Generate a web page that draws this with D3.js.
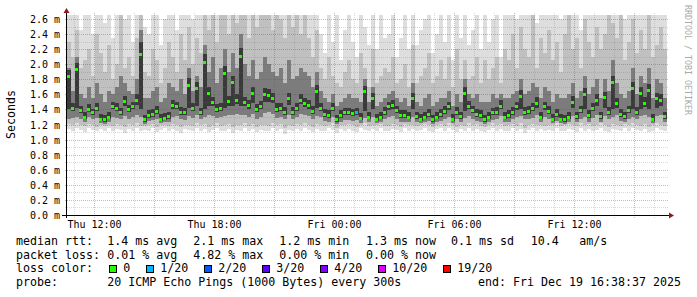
<!DOCTYPE html>
<html>
<head>
<meta charset="utf-8">
<script src="https://cdn.jsdelivr.net/npm/d3@7"></script>
<style>
  body { margin: 0; background: #fff; }
  text { font-family: "DejaVu Sans Mono", monospace; }
</style>
</head>
<body>
<div id="chart"></div>
<script>
// ---- data (ms), one value per 12 minute step, 150 steps ----
const median = [
  1.84,1.42,1.94,1.39,1.30,1.41,1.36,1.42,1.28,1.27,
  1.30,1.44,1.42,1.36,1.51,1.40,1.44,1.53,2.13,1.27,
  1.33,1.34,1.38,1.28,1.29,1.31,1.46,1.44,1.37,1.36,
  1.73,1.42,1.68,1.36,2.03,1.62,1.50,1.41,1.42,1.89,
  1.51,1.76,1.53,2.11,1.50,1.46,1.62,1.40,1.44,1.61,
  1.59,1.55,1.41,1.42,1.37,1.55,1.37,1.42,1.53,1.48,
  1.46,1.38,1.64,1.42,1.34,1.33,1.42,1.27,1.33,1.36,
  1.36,1.35,1.36,1.29,1.64,1.30,1.55,1.28,1.30,1.37,
  1.44,1.46,1.39,1.33,1.33,1.30,1.55,1.31,1.28,1.30,
  1.34,1.27,1.30,1.34,1.38,1.44,1.28,1.37,1.31,1.62,
  1.45,1.39,1.34,1.33,1.27,1.30,1.36,1.37,1.45,1.30,
  1.33,1.37,1.44,1.58,1.37,1.38,1.42,1.49,1.30,1.44,
  1.38,1.28,1.34,1.28,1.27,1.30,1.50,1.31,1.39,1.60,
  1.33,1.42,1.53,1.31,1.56,1.37,1.76,1.48,1.34,1.31,
  1.39,1.68,1.37,1.62,1.49,1.66,1.28,1.55,1.53,1.31
];
const pingMin = [
  1.14,1.12,1.16,1.13,1.10,1.15,1.13,1.11,1.14,1.12,
  1.15,1.11,1.14,1.13,1.09,1.14,1.12,1.15,1.11,1.13,
  1.12,1.15,1.10,1.13,1.15,1.11,1.14,1.12,1.09,1.14,
  1.13,1.11,1.15,1.12,1.14,1.10,1.13,1.15,1.11,1.12,
  1.14,1.09,1.13,1.12,1.15,1.11,1.14,1.10,1.13,1.12,
  1.11,1.15,1.12,1.14,1.08,1.13,1.11,1.14,1.12,1.15,
  1.13,1.10,1.14,1.12,1.11,1.15,1.13,1.09,1.14,1.12,
  1.14,1.12,1.10,1.15,1.13,1.11,1.14,1.12,1.15,1.11,
  1.12,1.14,1.13,1.10,1.15,1.12,1.14,1.11,1.13,1.15,
  1.12,1.10,1.14,1.15,1.11,1.16,1.13,1.10,1.14,1.12,
  1.15,1.12,1.14,1.11,1.10,1.13,1.15,1.12,1.14,1.11,
  1.12,1.15,1.11,1.14,1.09,1.13,1.15,1.12,1.14,1.11,
  1.13,1.12,1.15,1.11,1.12,1.14,1.13,1.10,1.15,1.12,
  1.14,1.11,1.13,1.15,1.12,1.10,1.14,1.13,1.11,1.15,
  1.12,1.15,1.13,1.11,1.14,1.10,1.12,1.15,1.13,1.11
];
const pingP10 = [
  1.21,1.19,1.22,1.20,1.18,1.21,1.20,1.17,1.19,1.18,
  1.20,1.18,1.21,1.19,1.17,1.21,1.19,1.22,1.18,1.18,
  1.19,1.21,1.17,1.19,1.20,1.18,1.21,1.19,1.17,1.20,
  1.20,1.18,1.22,1.19,1.21,1.17,1.20,1.22,1.18,1.19,
  1.21,1.17,1.20,1.19,1.22,1.18,1.21,1.17,1.20,1.19,
  1.18,1.22,1.19,1.21,1.16,1.20,1.18,1.21,1.19,1.22,
  1.20,1.17,1.21,1.19,1.18,1.20,1.22,1.16,1.20,1.19,
  1.21,1.19,1.17,1.20,1.22,1.18,1.20,1.19,1.21,1.18,
  1.18,1.21,1.20,1.17,1.21,1.19,1.20,1.18,1.19,1.21,
  1.19,1.17,1.20,1.21,1.18,1.22,1.19,1.17,1.20,1.18,
  1.22,1.19,1.21,1.18,1.17,1.20,1.22,1.19,1.21,1.18,
  1.19,1.21,1.18,1.22,1.16,1.20,1.21,1.19,1.20,1.18,
  1.20,1.19,1.22,1.18,1.19,1.21,1.20,1.18,1.22,1.19,
  1.21,1.18,1.20,1.22,1.19,1.17,1.21,1.20,1.18,1.21,
  1.19,1.22,1.20,1.18,1.21,1.17,1.19,1.22,1.20,1.18
];
const pingP25 = [
  1.27,1.29,1.30,1.28,1.24,1.30,1.27,1.29,1.22,1.21,
  1.23,1.30,1.29,1.27,1.31,1.28,1.30,1.32,1.30,1.21,
  1.25,1.26,1.28,1.22,1.23,1.24,1.30,1.31,1.27,1.26,
  1.31,1.29,1.32,1.27,1.30,1.32,1.31,1.29,1.30,1.31,
  1.33,1.32,1.34,1.33,1.32,1.30,1.34,1.28,1.30,1.35,
  1.36,1.34,1.29,1.30,1.27,1.33,1.27,1.30,1.34,1.32,
  1.31,1.28,1.31,1.30,1.25,1.24,1.30,1.21,1.24,1.26,
  1.26,1.25,1.26,1.22,1.29,1.23,1.30,1.22,1.23,1.27,
  1.30,1.31,1.28,1.24,1.24,1.23,1.30,1.24,1.22,1.23,
  1.25,1.21,1.23,1.25,1.28,1.30,1.22,1.27,1.24,1.29,
  1.31,1.28,1.25,1.24,1.21,1.23,1.26,1.27,1.31,1.23,
  1.24,1.27,1.30,1.31,1.27,1.28,1.29,1.32,1.23,1.30,
  1.28,1.22,1.25,1.22,1.21,1.23,1.31,1.24,1.28,1.30,
  1.24,1.29,1.32,1.24,1.31,1.27,1.30,1.32,1.25,1.24,
  1.28,1.30,1.27,1.31,1.32,1.30,1.22,1.31,1.33,1.24
];
const pingP40 = [
  1.40,1.38,1.42,1.35,1.27,1.37,1.32,1.38,1.25,1.24,
  1.27,1.40,1.38,1.32,1.45,1.36,1.40,1.46,1.40,1.24,
  1.29,1.30,1.34,1.25,1.26,1.28,1.41,1.40,1.33,1.32,
  1.42,1.38,1.45,1.32,1.40,1.45,1.45,1.37,1.38,1.42,
  1.45,1.44,1.47,1.45,1.45,1.41,1.48,1.36,1.40,1.50,
  1.50,1.48,1.37,1.38,1.33,1.46,1.33,1.38,1.47,1.43,
  1.41,1.34,1.42,1.38,1.30,1.29,1.38,1.24,1.29,1.32,
  1.32,1.31,1.32,1.26,1.38,1.27,1.40,1.25,1.27,1.33,
  1.39,1.40,1.35,1.29,1.29,1.27,1.40,1.28,1.25,1.27,
  1.30,1.24,1.27,1.30,1.34,1.39,1.25,1.33,1.28,1.38,
  1.40,1.35,1.30,1.29,1.24,1.27,1.32,1.33,1.40,1.27,
  1.29,1.33,1.39,1.40,1.33,1.34,1.38,1.42,1.27,1.39,
  1.34,1.25,1.30,1.25,1.24,1.27,1.42,1.28,1.35,1.40,
  1.29,1.38,1.44,1.28,1.42,1.33,1.40,1.42,1.30,1.28,
  1.35,1.40,1.33,1.41,1.43,1.40,1.25,1.42,1.45,1.28
];
const pingP60 = [
  1.92,1.48,2.02,1.44,1.36,1.47,1.41,1.49,1.34,1.33,
  1.36,1.50,1.48,1.42,1.58,1.46,1.50,1.60,2.30,1.33,
  1.39,1.40,1.45,1.34,1.35,1.37,1.53,1.50,1.43,1.42,
  1.82,1.49,1.76,1.42,2.14,1.70,1.57,1.47,1.49,1.98,
  1.58,1.85,1.60,2.22,1.57,1.53,1.70,1.47,1.51,1.69,
  1.67,1.62,1.48,1.49,1.43,1.62,1.43,1.49,1.60,1.55,
  1.53,1.44,1.72,1.48,1.40,1.39,1.48,1.33,1.39,1.42,
  1.42,1.41,1.42,1.35,1.71,1.36,1.62,1.34,1.36,1.43,
  1.50,1.52,1.45,1.39,1.39,1.36,1.62,1.37,1.34,1.36,
  1.40,1.33,1.36,1.40,1.44,1.50,1.34,1.43,1.37,1.70,
  1.51,1.45,1.40,1.39,1.33,1.36,1.42,1.43,1.52,1.36,
  1.39,1.43,1.50,1.66,1.43,1.44,1.48,1.56,1.36,1.50,
  1.44,1.34,1.40,1.34,1.33,1.36,1.58,1.37,1.45,1.68,
  1.39,1.48,1.60,1.37,1.63,1.43,1.85,1.55,1.40,1.37,
  1.45,1.76,1.43,1.70,1.56,1.74,1.34,1.62,1.60,1.37
];
const pingP75 = [
  1.95,1.65,2.10,1.60,1.55,1.70,1.55,1.75,1.60,1.50,
  1.65,1.60,1.70,1.85,1.75,1.65,1.60,1.80,2.45,1.55,
  1.55,1.65,1.70,1.50,1.55,1.75,1.70,1.65,1.80,1.60,
  1.95,1.65,1.85,1.70,2.25,1.90,2.10,1.75,1.95,2.20,
  1.90,2.15,1.95,2.40,2.00,1.85,2.05,1.80,1.90,2.10,
  2.00,1.90,1.85,1.95,1.75,2.05,1.80,1.85,1.95,1.90,
  1.85,1.70,1.90,1.65,1.55,1.50,1.60,1.45,1.50,1.55,
  1.60,1.55,1.55,1.50,1.80,1.50,1.70,1.45,1.50,1.55,
  1.60,1.65,1.55,1.50,1.55,1.45,1.75,1.50,1.45,1.55,
  1.60,1.45,1.50,1.55,1.55,1.65,1.45,1.60,1.50,1.80,
  1.60,1.55,1.60,1.50,1.50,1.50,1.60,1.55,1.60,1.55,
  1.55,1.60,1.65,1.80,1.60,1.65,1.75,1.70,1.55,1.70,
  1.65,1.50,1.60,1.55,1.55,1.60,1.75,1.55,1.65,1.85,
  1.60,1.70,1.80,1.55,1.80,1.65,2.05,1.75,1.60,1.55,
  1.65,1.95,1.60,1.85,1.75,1.95,1.55,1.80,1.75,1.55
];
const pingP90 = [
  2.30,2.10,2.45,1.95,2.05,2.20,1.85,2.40,2.15,1.90,
  2.25,1.80,2.00,2.70,1.95,2.10,1.85,2.35,2.75,1.90,
  1.85,2.20,2.05,1.75,1.95,2.30,2.10,1.90,2.40,2.05,
  2.50,2.00,2.35,2.15,2.70,2.45,2.75,2.30,2.70,2.80,
  2.40,2.75,2.55,2.80,2.70,2.35,2.75,2.50,2.70,2.75,
  2.80,2.45,2.70,2.60,2.35,2.75,2.50,2.70,2.40,2.75,
  2.35,2.10,2.45,1.95,1.80,2.10,1.85,1.75,1.70,1.90,
  2.05,1.80,1.75,2.15,1.95,1.70,2.20,1.75,1.85,1.95,
  1.90,2.10,1.75,1.80,2.00,1.70,2.25,1.75,1.85,1.95,
  2.15,1.75,1.85,2.05,1.80,2.10,1.70,2.20,1.80,2.05,
  1.80,1.85,2.10,1.75,2.05,1.80,1.95,2.10,1.75,2.20,
  2.05,2.40,1.95,2.50,2.20,2.10,2.70,1.95,2.35,2.15,
  2.45,2.05,2.30,1.90,2.40,2.75,2.20,2.35,1.95,2.60,
  2.30,2.10,2.50,2.20,2.40,2.70,2.55,2.35,2.65,2.05,
  2.30,2.60,2.15,2.45,2.20,2.70,2.10,2.25,2.50,2.20
];
const pingMax = [
  2.90,2.75,2.80,2.45,2.70,2.85,2.40,2.75,2.90,2.55,
  2.80,2.35,2.70,2.95,2.60,2.75,2.30,2.85,2.90,2.50,
  2.40,2.80,2.70,2.25,2.60,2.85,2.75,2.45,2.90,2.70,
  2.80,2.60,2.75,2.90,2.85,2.70,2.95,2.80,2.75,2.90,
  2.85,2.70,2.90,2.95,2.80,2.75,2.90,2.85,2.70,2.80,
  2.90,2.75,2.85,2.80,2.70,2.90,2.85,2.75,2.80,2.90,
  2.70,2.85,2.80,2.40,2.15,2.75,2.30,2.70,2.05,2.45,
  2.80,2.30,2.10,2.90,2.50,2.25,2.85,2.20,2.65,2.35,
  2.40,2.75,2.10,2.35,2.70,2.20,2.85,2.25,2.45,2.60,
  2.90,2.15,2.40,2.80,2.30,2.75,2.05,2.85,2.35,2.70,
  2.25,2.45,2.90,2.20,2.75,2.30,2.60,2.70,2.10,2.90,
  2.75,2.85,2.60,2.90,2.80,2.70,2.95,2.55,2.85,2.75,
  2.90,2.70,2.80,2.60,2.85,2.95,2.75,2.80,2.45,2.90,
  2.85,2.70,2.90,2.75,2.80,2.95,2.70,2.85,2.90,2.60,
  2.80,2.90,2.75,2.85,2.70,2.95,2.80,2.65,2.90,2.75
];
// lost pings per step (out of 20), only non-zero steps listed
const lossEvents = [[72, 1]];

const lossLevels = [0, 1, 2, 3, 4, 10, 19];
const lossLabels = ["0", "1/20", "2/20", "3/20", "4/20", "10/20", "19/20"];
const lossColors = ["#26ff00", "#00b8ff", "#0059ff", "#5e00ff", "#7e00ff", "#dd00ff", "#ff0000"];

const rttStats = ["1.4 ms avg", "2.1 ms max", "1.2 ms min", "1.3 ms now", "0.1 ms sd", "10.4", "am/s"];
const lossStats = ["0.01 % avg", "4.82 % max", "0.00 % min", "0.00 % now"];
const probeText = "20 ICMP Echo Pings (1000 Bytes) every 300s";
const endText = "end: Fri Dec 19 16:38:37 2025";

const startTime = new Date(2025, 11, 18, 10, 38, 37);
const endTime = new Date(2025, 11, 19, 16, 38, 37);
const stepMinutes = 12;
const yMax = 2.653;

// ---- layout ----
const W = 697, H = 297;
const L = 67, R = 667, T = 15, B = 215;

const times = median.map((_, i) => d3.timeMinute.offset(startTime, i * stepMinutes));
const loss = median.map(() => 0);
lossEvents.forEach(([i, n]) => loss[i] = n);

const x = d3.scaleTime().domain([startTime, endTime]).range([L, R]);
const y = d3.scaleLinear().domain([0, yMax]).range([B, T]);
const lossColor = d3.scaleThreshold().domain(lossLevels.slice(1)).range(lossColors);
const stepW = x(times[1]) - x(times[0]);

const svg = d3.select("#chart").append("svg")
  .attr("width", W).attr("height", H)
  .style("display", "block");

svg.append("rect").attr("width", W).attr("height", H).attr("fill", "#fff");

svg.append("clipPath").attr("id", "plotclip")
  .append("rect").attr("x", L).attr("y", T).attr("width", R - L).attr("height", B - T);

// smoke: sorted ping bands, light outside, dark inside
const bands = [
  { lo: pingMin, hi: pingMax, fill: "#dedede" },
  { lo: pingP10, hi: pingP90, fill: "#c0c0c0" },
  { lo: pingP25, hi: pingP75, fill: "#7c7c7c" },
  { lo: pingP40, hi: pingP60, fill: "#3a3a3a" }
];
const smoke = svg.append("g").attr("clip-path", "url(#plotclip)").attr("shape-rendering", "crispEdges");
bands.forEach(band => {
  smoke.append("g").selectAll("rect")
    .data(times)
    .join("rect")
    .attr("x", d => x(d))
    .attr("width", stepW)
    .attr("y", (d, i) => y(Math.min(band.hi[i], yMax)))
    .attr("height", (d, i) => y(band.lo[i]) - y(Math.min(band.hi[i], yMax)))
    .attr("fill", band.fill);
});

// grid
const grid = svg.append("g").attr("shape-rendering", "crispEdges");
const minorColor = "rgba(120,120,120,0.28)";
const majorColor = "rgba(225,30,30,0.38)";
const yMajor = y.ticks(13).filter(v => v > 0);
const yMinor = d3.range(0.1, yMax, 0.2);
const xMajor = d3.timeHour.every(3).range(startTime, endTime);
const xMinor = d3.timeHour.every(1).range(startTime, endTime).filter(t => t.getHours() % 3 !== 0);
const px = v => Math.round(v) + 0.5;

grid.selectAll(".ym").data(yMinor).join("line")
  .attr("x1", L - 2).attr("x2", R + 2)
  .attr("y1", d => px(y(d))).attr("y2", d => px(y(d)))
  .attr("stroke", minorColor).attr("stroke-dasharray", "1,1");
grid.selectAll(".xm").data(xMinor).join("line")
  .attr("y1", T - 2).attr("y2", B + 3)
  .attr("x1", d => px(x(d))).attr("x2", d => px(x(d)))
  .attr("stroke", minorColor).attr("stroke-dasharray", "1,1");
grid.selectAll(".yM").data(yMajor).join("line")
  .attr("x1", L - 2).attr("x2", R + 2)
  .attr("y1", d => px(y(d))).attr("y2", d => px(y(d)))
  .attr("stroke", majorColor).attr("stroke-dasharray", "1,1");
grid.selectAll(".xM").data(xMajor).join("line")
  .attr("y1", T - 2).attr("y2", B + 3)
  .attr("x1", d => px(x(d))).attr("x2", d => px(x(d)))
  .attr("stroke", majorColor).attr("stroke-dasharray", "1,1");

// median, coloured by loss
svg.append("g").attr("shape-rendering", "crispEdges")
  .selectAll("rect").data(times).join("rect")
  .attr("x", d => x(d))
  .attr("width", stepW - 1)
  .attr("y", (d, i) => Math.round(y(median[i])) - 1)
  .attr("height", 3)
  .attr("fill", (d, i) => lossColor(loss[i]));

// axes
const axisG = svg.append("g").attr("shape-rendering", "crispEdges");
axisG.append("line").attr("x1", L - 5).attr("x2", R + 2).attr("y1", B + 0.5).attr("y2", B + 0.5).attr("stroke", "#000");
axisG.append("line").attr("x1", L - 0.5).attr("x2", L - 0.5).attr("y1", B + 3).attr("y2", T - 3).attr("stroke", "#000");
svg.append("path").attr("d", `M${R + 2},${B - 2.5}L${R + 7},${B + 0.5}L${R + 2},${B + 3.5}Z`).attr("fill", "#8c1c1c");
svg.append("path").attr("d", `M${L - 3.5},${T - 2}L${L - 0.5},${T - 7}L${L + 2.5},${T - 2}Z`).attr("fill", "#8c1c1c");

// tick labels
svg.append("g").selectAll("text").data(y.ticks(13)).join("text")
  .attr("x", 60).attr("y", d => px(y(d))).attr("dy", "0.36em")
  .attr("text-anchor", "end").attr("font-size", 10).attr("fill", "#000")
  .text(d => d3.format(".1f")(d) + " m");
const fmtTime = d3.timeFormat("%a %H:%M");
svg.append("g").selectAll("text").data(d3.timeHour.every(6).range(startTime, endTime)).join("text")
  .attr("x", d => px(x(d))).attr("y", 228)
  .attr("text-anchor", "middle").attr("font-size", 10).attr("fill", "#000")
  .text(d => fmtTime(d));

svg.append("text").attr("transform", "translate(15,114.5) rotate(-90)")
  .attr("text-anchor", "middle").attr("font-size", 11.6).attr("fill", "#000").text("Seconds");
svg.append("text").attr("transform", "translate(685,5) rotate(90)")
  .attr("font-size", 8.3).attr("fill", "#aaaaaa").text("RRDTOOL / TOBI OETIKER");

// legend
const fs = 11.63, cw = 7;
const rows = [245, 258.7, 272.4, 286];
const valueX = [107.3, 193.3, 279.3, 366, 451, 530.7, 579.3];
const leg = svg.append("g").attr("font-size", fs).attr("fill", "#000").style("white-space", "pre");
leg.append("text").attr("x", 16).attr("y", rows[0]).text("median rtt:");
rttStats.forEach((s, i) => leg.append("text").attr("x", valueX[i]).attr("y", rows[0]).text(s));
leg.append("text").attr("x", 16).attr("y", rows[1]).text("packet loss:");
lossStats.forEach((s, i) => leg.append("text").attr("x", valueX[i]).attr("y", rows[1]).text(s));
leg.append("text").attr("x", 16).attr("y", rows[2]).text("loss color:");
let sx = 109;
lossLabels.forEach((lab, i) => {
  leg.append("rect").attr("x", sx + 0.5).attr("y", 265.5).attr("width", 7).attr("height", 7)
    .attr("fill", lossColors[i]).attr("stroke", "#000").attr("stroke-width", 1);
  leg.append("text").attr("x", sx + 14.3).attr("y", rows[2]).text(lab);
  sx += 30 + cw * lab.length;
});
leg.append("text").attr("x", 16).attr("y", rows[3]).text("probe:");
leg.append("text").attr("x", valueX[0]).attr("y", rows[3]).text(probeText);
leg.append("text").attr("x", 478).attr("y", rows[3]).text(endText);
</script>
</body>
</html>
